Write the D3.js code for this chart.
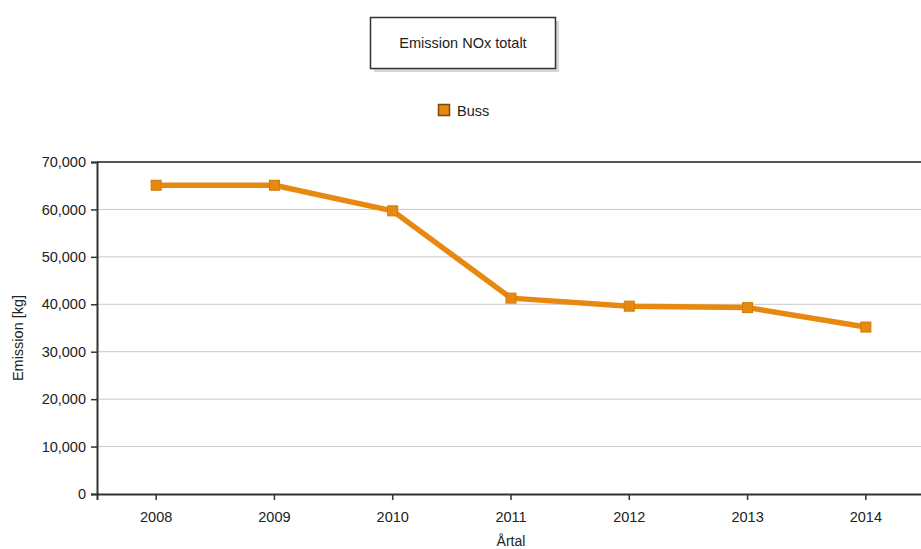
<!DOCTYPE html>
<html><head><meta charset="utf-8">
<script src="https://cdn.jsdelivr.net/npm/d3@7"></script>
<style>body{margin:0;background:#fff;overflow:hidden}svg{display:block}text{font-family:"Liberation Sans",Arial,sans-serif;fill:#222}</style>
</head><body>
<svg id="c" width="921" height="549"></svg>
<script>
const years = ["2008","2009","2010","2011","2012","2013","2014"];
const buss = [65100, 65100, 59700, 41300, 39600, 39300, 35200];
const yTicks = [0,10000,20000,30000,40000,50000,60000,70000];
const seriesName = "Buss";
const chartTitle = "Emission NOx totalt";

const svg = d3.select("#c");
const L = 97, R = 925, T = 162, B = 494;
const x = d3.scaleBand().domain(years).range([L, R]);
const y = d3.scaleLinear().domain([0, 70000]).range([B, T]);
const fmt = d3.format(",");

svg.append("g").selectAll("line").data(yTicks.filter(d=>d>0 && d<70000)).join("line")
  .attr("x1", L).attr("x2", R).attr("y1", d=>y(d)).attr("y2", d=>y(d))
  .attr("stroke", "#c8c8c8").attr("stroke-width", 1);
svg.append("line").attr("x1", L).attr("x2", R).attr("y1", T).attr("y2", T).attr("stroke", "#555").attr("stroke-width", 2);

const ya = svg.append("g").attr("transform", `translate(${L},0)`)
  .call(d3.axisLeft(y).tickValues(yTicks).tickFormat(fmt).tickSize(6).tickPadding(5));
const xa = svg.append("g").attr("transform", `translate(0,${B})`)
  .call(d3.axisBottom(x).tickSize(6).tickPadding(12));
[ya, xa].forEach(a => {
  a.select(".domain").attr("stroke", "#333").attr("stroke-width", 2);
  a.selectAll(".tick line").attr("stroke", "#333").attr("stroke-width", 1.5);
  a.selectAll("text").style("font-size", "14.5px").attr("fill", "#222");
});

const cx = d => x(d) + x.bandwidth()/2;
svg.append("path").datum(buss)
  .attr("d", d3.line().x((d,i)=>cx(years[i])).y(d=>y(d)))
  .attr("fill", "none").attr("stroke", "#E8890F").attr("stroke-width", 5.5).attr("stroke-linejoin", "round");
svg.append("g").selectAll("rect").data(buss).join("rect")
  .attr("x", (d,i)=>cx(years[i])-5).attr("y", d=>y(d)-5).attr("width", 10).attr("height", 10)
  .attr("fill", "#E8890F").attr("stroke", "#D07A08").attr("stroke-width", 1);

svg.append("text").attr("transform", `translate(23,${(T+B)/2+10}) rotate(-90)`)
  .attr("text-anchor", "middle").style("font-size", "14.5px").text("Emission [kg]");
svg.append("text").attr("x", cx("2011")).attr("y", 546).attr("text-anchor", "middle")
  .style("font-size", "14px").text("Årtal");

svg.append("rect").attr("x", 374).attr("y", 21).attr("width", 185).attr("height", 51).attr("fill", "#bbb").attr("opacity", 0.6);
svg.append("rect").attr("x", 370.5).attr("y", 17.5).attr("width", 185).attr("height", 51).attr("fill", "#fff").attr("stroke", "#333").attr("stroke-width", 1.5);
svg.append("text").attr("x", 463).attr("y", 48).attr("text-anchor", "middle").style("font-size", "14.5px").text(chartTitle);

svg.append("rect").attr("x", 438.5).attr("y", 104.5).attr("width", 11).attr("height", 11)
  .attr("fill", "#E8890F").attr("stroke", "#7a4a10").attr("stroke-width", 1.5);
svg.append("text").attr("x", 457).attr("y", 115.5).style("font-size", "14.5px").text(seriesName);
</script>
</body></html>
